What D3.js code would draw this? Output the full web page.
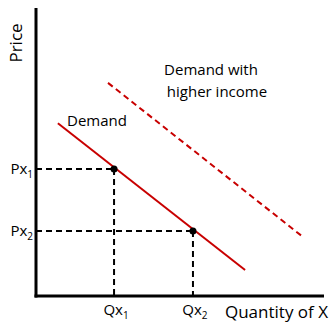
<!DOCTYPE html>
<html>
<head>
<meta charset="utf-8">
<script src="https://cdn.jsdelivr.net/npm/d3@7"></script>
<style>
  body { margin: 0; background: #fff; }
  svg text { font-family: "Open Sans", "Noto Sans", sans-serif; fill: #000; }
</style>
</head>
<body>
<div id="chart"></div>
<script>
// 需求曲线（原始收入）
const demand = [[0.76, 6.0], [7.26, 0.9]];
// 需求曲线（更高收入）
const demandHigh = [[2.5, 7.4], [9.27, 2.05]];
// 均衡点
const points = [
  { q: 2.71, p: 4.41, qLabel: 'Qx', pLabel: 'Px', sub: '1' },
  { q: 5.45, p: 2.26, qLabel: 'Qx', pLabel: 'Px', sub: '2' }
];

const width = 330, height = 323;
const margin = { top: 8, right: 6, bottom: 27, left: 36 };

const svg = d3.select('#chart').append('svg')
  .attr('width', width)
  .attr('height', height);

const x = d3.scaleLinear().domain([0, 10]).range([margin.left, width - margin.right]);
const y = d3.scaleLinear().domain([0, 10]).range([height - margin.bottom, margin.top]);

const line = d3.line().x(d => x(d[0])).y(d => y(d[1]));

// 虚线辅助线
points.forEach(d => {
  svg.append('line')
    .attr('x1', x(0)).attr('x2', x(d.q))
    .attr('y1', y(d.p)).attr('y2', y(d.p))
    .attr('stroke', '#000').attr('stroke-width', 2)
    .attr('stroke-dasharray', '6,4');
  svg.append('line')
    .attr('x1', x(d.q)).attr('x2', x(d.q))
    .attr('y1', y(d.p)).attr('y2', y(0))
    .attr('stroke', '#000').attr('stroke-width', 2)
    .attr('stroke-dasharray', '6,4');
});

// 需求曲线
svg.append('path')
  .attr('d', line(demand))
  .attr('stroke', '#c80000').attr('stroke-width', 2).attr('fill', 'none');

svg.append('path')
  .attr('d', line(demandHigh))
  .attr('stroke', '#c80000').attr('stroke-width', 2).attr('fill', 'none')
  .attr('stroke-dasharray', '6,4');

// 坐标轴
svg.append('line')
  .attr('x1', x(0)).attr('x2', x(0))
  .attr('y1', y(10)).attr('y2', y(0) + 1.5)
  .attr('stroke', '#000').attr('stroke-width', 3);
svg.append('line')
  .attr('x1', x(0) - 1.5).attr('x2', x(10))
  .attr('y1', y(0)).attr('y2', y(0))
  .attr('stroke', '#000').attr('stroke-width', 3);

// 点
svg.selectAll('.pt')
  .data(points)
  .enter()
  .append('circle')
  .attr('cx', d => x(d.q))
  .attr('cy', d => y(d.p))
  .attr('r', 3.5)
  .attr('fill', '#000');

// 刻度标签
points.forEach(d => {
  const pt = svg.append('text')
    .attr('x', x(0) - 3)
    .attr('y', y(d.p) + 5)
    .attr('text-anchor', 'end')
    .style('font-size', '15px');
  pt.append('tspan').text(d.pLabel);
  pt.append('tspan').attr('dy', 4).style('font-size', '10px').text(d.sub);

  const qt = svg.append('text')
    .attr('x', x(d.q) + 2)
    .attr('y', y(0) + 19)
    .attr('text-anchor', 'middle')
    .style('font-size', '15px');
  qt.append('tspan').text(d.qLabel);
  qt.append('tspan').attr('dy', 4).style('font-size', '10px').text(d.sub);
});

// 轴标题
svg.append('text')
  .attr('transform', `translate(${x(0) - 14}, ${y(10) + 35}) rotate(-90)`)
  .attr('text-anchor', 'middle')
  .style('font-size', '17px')
  .text('Price');

svg.append('text')
  .attr('x', width - 2)
  .attr('y', height - 5)
  .attr('text-anchor', 'end')
  .style('font-size', '17px')
  .text('Quantity of X');

// 曲线标签
svg.append('text')
  .attr('x', 67)
  .attr('y', 126)
  .style('font-size', '15px')
  .text('Demand');

svg.append('text')
  .attr('x', 211)
  .attr('y', 75)
  .attr('text-anchor', 'middle')
  .style('font-size', '15px')
  .text('Demand with');

svg.append('text')
  .attr('x', 217)
  .attr('y', 97)
  .attr('text-anchor', 'middle')
  .style('font-size', '15px')
  .text('higher income');
</script>
</body>
</html>
